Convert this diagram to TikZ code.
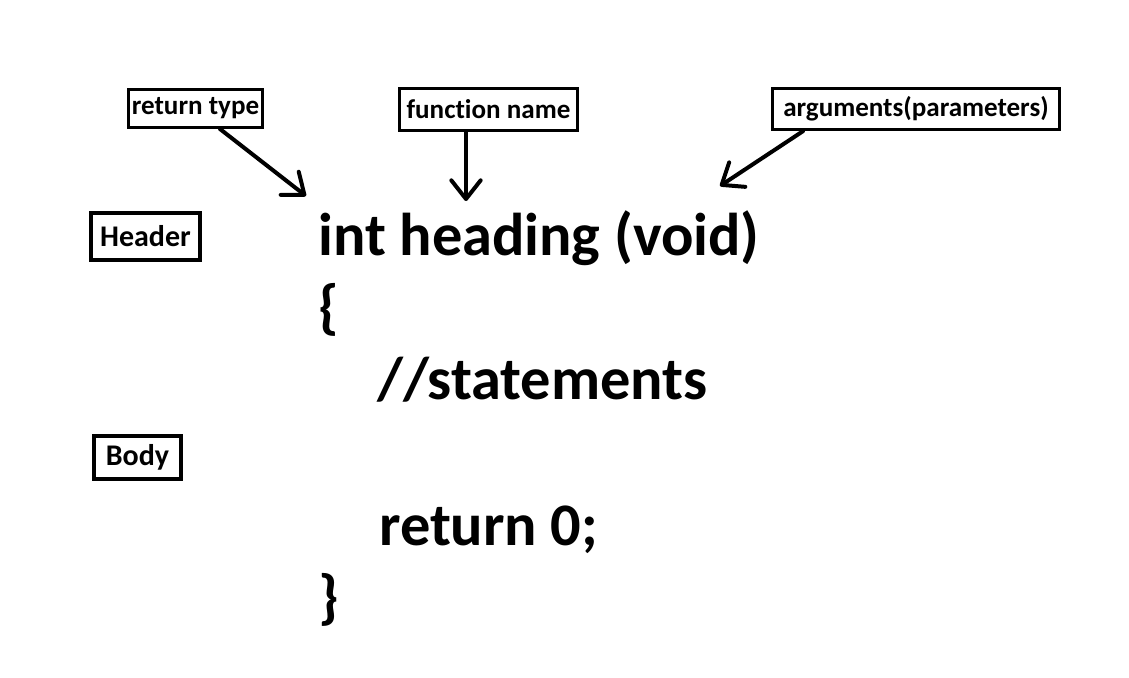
\documentclass[tikz,border=0pt]{standalone}
\usepackage{fontspec}
\usepackage{tikz}
\usetikzlibrary{arrows.meta}
\setmainfont[Ligatures=NoCommon]{Carlito}

\tikzset{
  lbl/.style={draw, line width=2.25pt, inner sep=0pt, font=\bfseries\fontsize{20.3}{22}\selectfont},
  part/.style={draw, line width=3pt, inner sep=0pt, font=\bfseries\fontsize{22.5}{24}\selectfont},
  code/.style={anchor=base west, inner sep=0pt, font=\bfseries\fontsize{45.3}{50}\selectfont},
  pointer/.style={line width=3pt, line cap=round, -{Straight Barb[length=14pt,width=22pt,line cap=round,line join=round]}}
}

\begin{document}
\begin{tikzpicture}[x=0.75pt,y=0.75pt,yscale=-1,xscale=1]
\useasboundingbox (0,0) rectangle (1129,678);

% Label boxes
\node [lbl, minimum width=100.5pt, minimum height=28.5pt] (rtype) at (195.5,108.5) {return type};
\node [lbl, minimum width=133.5pt, minimum height=31.5pt] (fname) at (488.5,109.5) {function name};
\node [lbl, minimum width=215pt, minimum height=31pt] (fargs) at (916,109) {arguments(parameters)};
\node [part, minimum width=81.75pt, minimum height=35.25pt] (header) at (145.5,236.5) {Header};
\node [part, minimum width=65.25pt, minimum height=32.25pt] (body) at (137.5,457.5) {Body};

% Code lines
\node [code] (sig) at (318,255) {int heading (void)};
\node [code] (open) at (318,327) {\{};
\node [code] (stmt) at (377,399) {//statements};
\node [code] (ret) at (379,545) {return 0;};
\node [code] (close) at (318,617) {\}};

% Arrow tips
\coordinate (rtip) at (306,196);
\coordinate (ftip) at (466,201);
\coordinate (atip) at (720,186);

\draw [pointer] ([shift={(24.5,0)}]rtype.south) -- (rtip);
\draw [pointer] ([shift={(-22.5,0)}]fname.south) -- (ftip);
\draw [pointer] ([shift={(-113,0)}]fargs.south) -- (atip);

\end{tikzpicture}
\end{document}
